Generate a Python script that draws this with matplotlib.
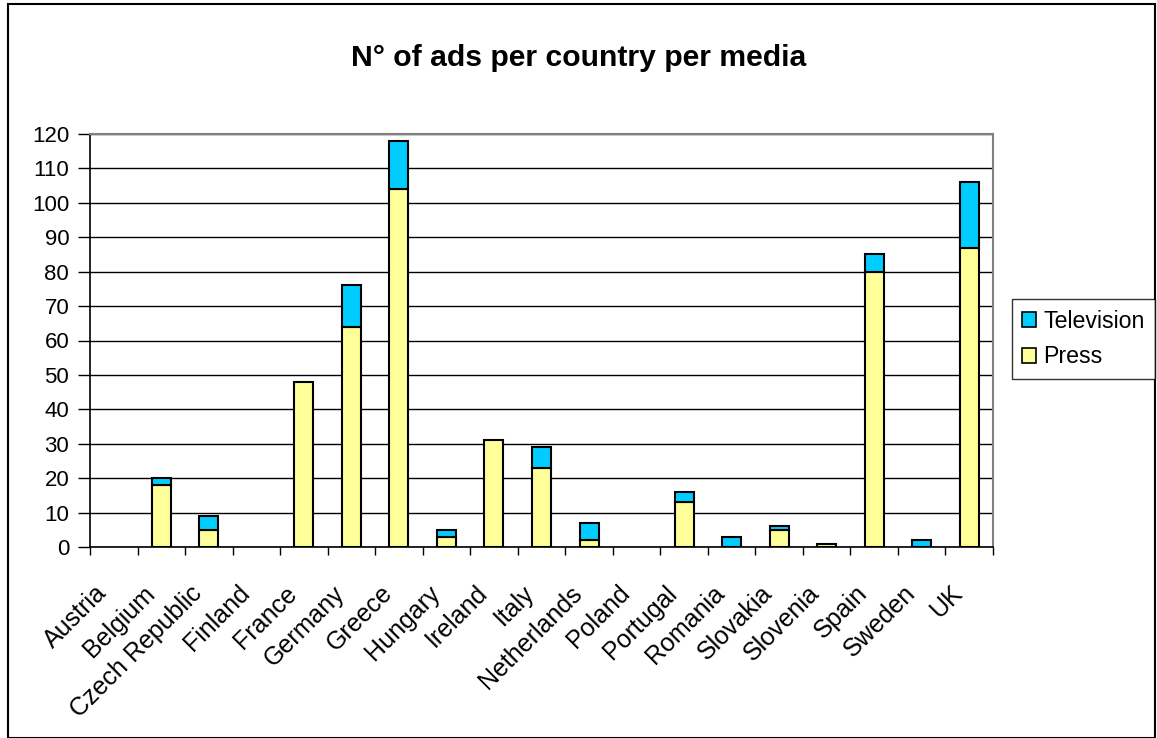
import matplotlib
matplotlib.use("Agg")
import matplotlib.pyplot as plt
from matplotlib.patches import Patch, Rectangle
from matplotlib.transforms import blended_transform_factory, offset_copy
import numpy as np

countries = ["Austria", "Belgium", "Czech Republic", "Finland", "France", "Germany",
             "Greece", "Hungary", "Ireland", "Italy", "Netherlands", "Poland",
             "Portugal", "Romania", "Slovakia", "Slovenia", "Spain", "Sweden", "UK"]
press = [0, 18, 5, 0, 48, 64, 104, 3, 31, 23, 2, 0, 13, 0, 5, 1, 80, 0, 87]
television = [0, 2, 4, 0, 0, 12, 14, 2, 0, 6, 5, 0, 3, 3, 1, 0, 5, 2, 19]
yticks = list(range(0, 121, 10))

plt.rcParams['font.family'] = ['Liberation Sans', 'DejaVu Sans']

fig = plt.figure(figsize=(11.57, 7.38), dpi=100)
ax = fig.add_axes([90/1157, 1-547/738, (993-90)/1157, (547-134)/738])

x = np.arange(len(countries))
w = 0.4
lw_p = [1.5 if v > 0 else 0 for v in press]
lw_t = [1.5 if v > 0 else 0 for v in television]
ax.bar(x, press, w, color="#FFFF99", edgecolor="black", linewidth=lw_p, label="Press", zorder=3)
ax.bar(x, television, w, bottom=press, color="#00CCFF", edgecolor="black", linewidth=lw_t,
       label="Television", zorder=3)

ax.set_xlim(-0.5, len(countries) - 0.5)
ax.set_ylim(0, 120)
ax.set_yticks(yticks)
ax.set_yticklabels([str(v) for v in yticks], fontsize=16)
ax.yaxis.grid(True, color="black", linewidth=1.0, zorder=0)
ax.set_axisbelow(True)

ax.set_xticks(np.arange(len(countries) + 1) - 0.5)
ax.set_xticklabels([])
ax.tick_params(axis="x", length=6, width=1, direction="out")
ax.tick_params(axis="y", length=9, width=1, direction="out", pad=6)

trans = blended_transform_factory(ax.transData, ax.transAxes)
trans = offset_copy(trans, fig=fig, x=-19, y=-34, units="dots")
for xi, name in zip(x, countries):
    ax.text(xi, 0, name, transform=trans, rotation=45, ha="right", va="top",
            rotation_mode="anchor", fontsize=18)

for s in ["top", "right"]:
    ax.spines[s].set_color("#808080")
    ax.spines[s].set_linewidth(1.5)
for s in ["left", "bottom"]:
    ax.spines[s].set_color("black")
    ax.spines[s].set_linewidth(1.2)

fig.text(0.5, 1 - 58/738, "N° of ads per country per media", ha="center", va="center",
         fontsize=21.7, fontweight="bold")

handles = [Patch(facecolor="#00CCFF", edgecolor="black", linewidth=1.2),
           Patch(facecolor="#FFFF99", edgecolor="black", linewidth=1.2)]
leg = fig.legend(handles, ["Television", "Press"], loc="center left",
                 bbox_to_anchor=(1012/1157, 1 - 339/738), frameon=True, fancybox=False,
                 edgecolor="black", fontsize=16.7, handlelength=0.6, handleheight=0.6,
                 handletextpad=0.3, borderpad=0.45, labelspacing=0.55, borderaxespad=0)
leg.get_frame().set_linewidth(1.0)

fig.patches.append(Rectangle((8/1157, 0), (1157-10)/1157, 1 - 4/738, transform=fig.transFigure,
                             fill=False, edgecolor="black", linewidth=1.5))

fig.savefig("out.png", dpi=100)
